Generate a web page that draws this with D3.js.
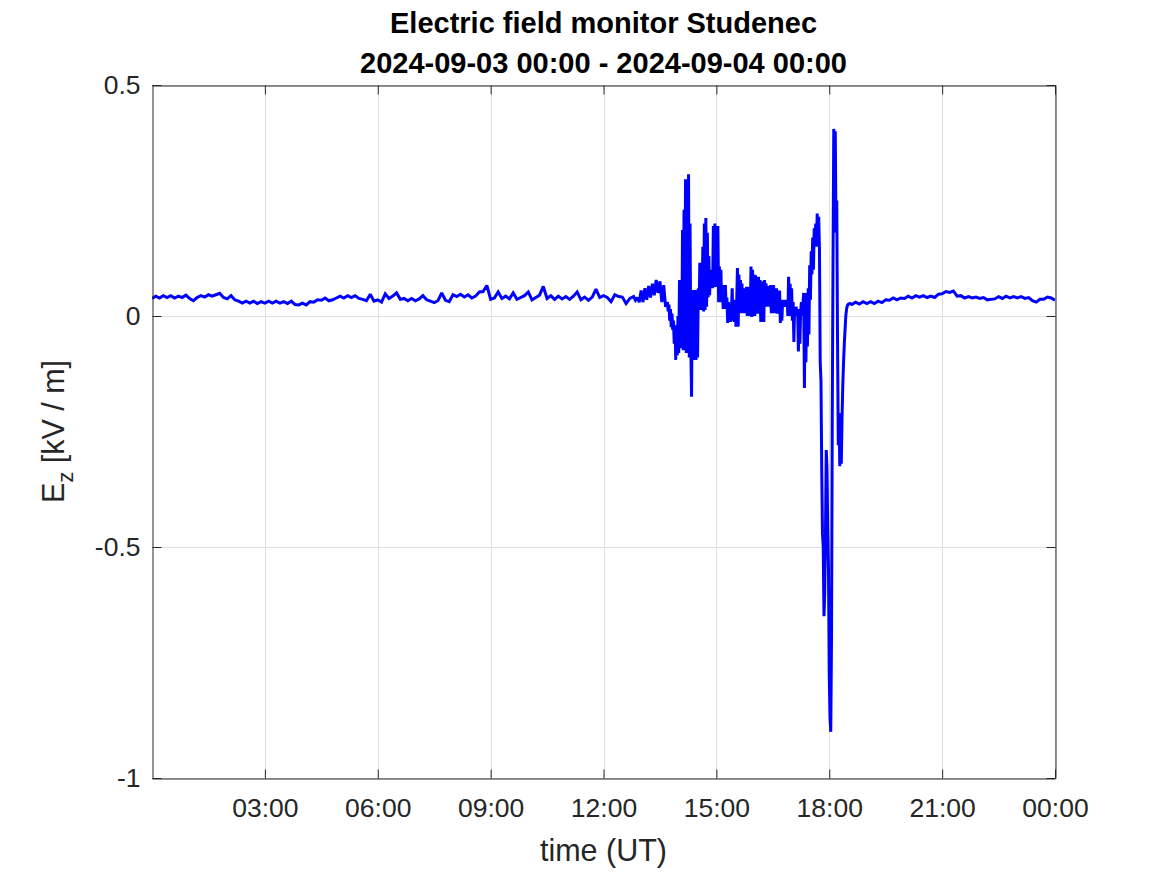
<!DOCTYPE html>
<html>
<head>
<meta charset="utf-8">
<script src="https://cdn.jsdelivr.net/npm/d3@7"></script>
<style>
  html, body { margin: 0; padding: 0; background: #ffffff; }
  svg { display: block; font-family: "Liberation Sans", Arial, Helvetica, sans-serif; }
</style>
</head>
<body>
<svg id="chart" width="1167" height="875"></svg>
<script>
// ---------- DATA (hours since 2024-09-03 00:00 UT, Ez in kV/m) ----------
const titleLines = ["Electric field monitor Studenec", "2024-09-03 00:00 - 2024-09-04 00:00"];
const yTicks = [-1, -0.5, 0, 0.5];
const yTickLabels = ["-1", "-0.5", "0", "0.5"];
const xTickHours = [3, 6, 9, 12, 15, 18, 21, 24];

const morningT = [0.0,0.1,0.2,0.3,0.4,0.5,0.6,0.7,0.8,0.9,1.0,1.1,1.2,1.3,1.4,1.5,1.6,1.7,1.8,1.9,
  2.0,2.1,2.2,2.3,2.4,2.5,2.6,2.7,2.8,2.9,3.0,3.1,3.2,3.3,3.4,3.5,3.6,3.7,3.8,3.9,
  4.0,4.1,4.2,4.3,4.4,4.5,4.6,4.7,4.8,4.9,5.0,5.1,5.2,5.3,5.4,5.5,5.6,5.7,5.8,5.9,
  6.0,6.1,6.2,6.3,6.4,6.5,6.6,6.7,6.8,6.9,7.0,7.1,7.2,7.3,7.4,7.5,7.6,7.7,7.8,7.9,
  8.0,8.1,8.2,8.3,8.4,8.5,8.6,8.7,8.8,8.9,9.0,9.1,9.2,9.3,9.4,9.5,9.6,9.7,9.8,9.9,
  10.0,10.1,10.2,10.3,10.4,10.5,10.6,10.7,10.8,10.9,11.0,11.1,11.2,11.3,11.4,11.5,11.6,11.7,11.8,11.9,
  12.0,12.1,12.2,12.3,12.4,12.5,12.6,12.7,12.8,12.85,12.9,12.95,13.0,13.05,13.1,13.15,13.2,13.25,13.3,13.35,
  13.4,13.45,13.5,13.55,13.6,13.65];
const morningEz = [0.038,0.043,0.039,0.044,0.040,0.044,0.039,0.043,0.040,0.045,
  0.038,0.033,0.040,0.044,0.041,0.046,0.043,0.046,0.049,0.040,
  0.037,0.044,0.035,0.032,0.028,0.032,0.028,0.032,0.027,0.031,
  0.028,0.032,0.028,0.032,0.028,0.031,0.027,0.032,0.025,0.024,
  0.028,0.024,0.031,0.030,0.035,0.034,0.039,0.033,0.035,0.039,
  0.043,0.039,0.044,0.040,0.044,0.038,0.036,0.033,0.047,0.032,
  0.035,0.030,0.048,0.038,0.043,0.050,0.036,0.038,0.033,0.038,
  0.033,0.037,0.044,0.035,0.032,0.029,0.033,0.050,0.034,0.031,
  0.046,0.042,0.047,0.041,0.046,0.039,0.043,0.052,0.053,0.066,
  0.036,0.039,0.052,0.038,0.043,0.037,0.050,0.036,0.040,0.044,
  0.052,0.035,0.040,0.045,0.064,0.038,0.044,0.036,0.043,0.037,
  0.042,0.036,0.043,0.052,0.035,0.041,0.034,0.041,0.058,0.040,
  0.044,0.040,0.031,0.046,0.042,0.041,0.027,0.038,0.042,0.034,0.040,0.030,0.055,0.030,0.060,0.035,0.065,0.040,0.070,0.045,
  0.078,0.050,0.075,0.030,0.067,0.020];

const stormT = [13.70,13.72,13.74,13.76,13.78,13.80,13.82,13.84,13.86,13.88,13.90,13.92,13.94,13.96,13.98,
  14.00,14.02,14.04,14.06,14.08,14.10,14.12,14.14,14.16,14.18,14.20,14.22,14.24,14.26,14.28,14.30,14.32,14.34,14.36,14.38,
  14.40,14.42,14.44,14.46,14.48,14.50,14.52,14.54,14.56,14.58,14.60,14.62,14.64,14.66,14.68,14.70,14.72,14.74,14.76,14.78,
  14.80,14.82,14.84,14.86,14.88,14.90,14.92,14.94,14.96,14.98,15.00,15.02,15.04,15.06,15.08,15.10,15.12,15.14,15.16,15.18,
  15.20,15.22,15.24,15.26,15.28,15.30,15.32,15.34,15.36,15.38,15.40,15.42,15.44,15.46,15.48,15.50,15.52,15.54,15.56,15.58,
  15.60,15.62,15.64,15.66,15.68,15.70,15.72,15.74,15.76,15.78,15.80,15.82,15.84,15.86,15.88,15.90,15.92,15.94,15.96,15.98,
  16.00,16.02,16.04,16.06,16.08,16.10,16.12,16.14,16.16,16.18,16.20,16.22,16.24,16.26,16.28,16.30,16.32,16.34,16.36,16.38,
  16.40,16.42,16.44,16.46,16.48,16.50,16.52,16.54,16.56,16.58,16.60,16.62,16.64,16.66,16.68,16.70,16.72,16.74,16.76,16.78,
  16.80,16.82,16.84,16.86,16.88,16.90,16.92,16.94,16.96,16.98,17.00,17.02,17.04,17.06,17.08,17.10,17.12,17.14,17.16,17.18,
  17.20,17.22,17.24,17.26,17.28,17.30,17.32,17.34,17.36,17.38,17.40,17.42,17.44,17.46,17.48,17.50,17.52,17.54,17.56,17.58,
  17.60,17.62,17.64,17.66,17.68,17.70,17.72,17.74,17.76,17.78,17.80,17.82,17.84,17.86,17.88,17.90,17.92,17.94,17.96,17.98,
  18.00,18.02,18.04,18.06,18.08,18.10,18.12,18.14,18.16,18.18,18.20,18.22,18.24,18.26,18.28,18.30,18.32,18.34,18.36,18.38,
  18.40,18.42,18.44,18.46,18.48,18.50,18.55];
const stormEz = [0.030,0.010,0.025,-0.010,0.015,-0.024,0.005,-0.030,-0.010,-0.060,-0.020,-0.095,-0.030,-0.085,0.000,
  -0.080,0.078,-0.060,0.050,-0.070,0.186,-0.074,0.230,-0.050,0.296,-0.080,0.250,-0.060,0.307,-0.090,0.200,-0.060,-0.175,0.056,-0.095,
  0.040,-0.060,0.056,-0.095,0.013,-0.090,0.060,0.013,0.115,0.013,0.110,0.020,0.150,0.010,0.200,0.013,0.212,0.020,0.180,0.040,
  0.130,0.045,0.100,0.060,0.100,0.060,0.195,0.065,0.200,0.063,0.190,0.070,0.195,0.030,0.107,0.040,0.100,0.030,0.067,0.015,
  0.060,0.020,0.067,0.015,0.040,-0.015,0.030,-0.010,0.020,-0.013,0.015,0.060,-0.010,0.020,-0.013,0.035,-0.023,0.030,0.104,-0.023,
  0.090,0.006,0.078,0.010,0.070,0.006,0.060,0.010,0.050,0.006,0.063,0.000,0.055,0.005,0.063,0.000,0.107,-0.002,0.100,0.010,
  0.090,0.000,0.088,0.005,0.080,0.010,0.085,0.005,0.078,-0.013,0.075,-0.010,0.070,-0.013,0.078,0.020,0.071,0.020,0.060,0.025,
  0.065,0.020,0.067,0.006,0.060,0.010,0.067,0.006,0.055,0.010,0.060,0.005,0.050,0.010,0.055,-0.015,0.035,-0.010,0.030,0.020,
  0.035,0.020,0.030,0.022,0.035,0.000,0.085,0.005,0.070,0.000,0.060,-0.010,0.030,-0.056,0.020,0.000,0.020,0.002,0.015,-0.077,
  0.015,-0.060,0.010,0.030,0.000,0.025,0.050,-0.156,0.040,-0.100,0.050,-0.066,0.060,-0.040,0.110,0.035,0.140,0.090,0.170,0.100,
  0.190,0.150,0.200,0.150,0.222,0.160,0.215,0.143,-0.100,-0.140,-0.330,-0.470,-0.500,-0.650,-0.600,-0.470,-0.290,-0.330,-0.460,-0.550,
  -0.780,-0.870,-0.900,-0.700,-0.220,0.115,0.405,0.300,0.400,0.180,0.250,-0.050,-0.280,-0.210,-0.325,-0.250,-0.320,-0.220,-0.150,-0.100,
  -0.060,-0.030,0.000,0.015,0.022,0.025,0.027];

const eveningT = [18.6,18.7,18.8,18.9,19.0,19.1,19.2,19.3,19.4,19.5,19.6,19.7,19.8,19.9,
  20.0,20.1,20.2,20.3,20.4,20.5,20.6,20.7,20.8,20.9,21.0,21.1,21.2,21.3,21.4,21.5,21.6,21.7,21.8,21.9,
  22.0,22.1,22.2,22.3,22.4,22.5,22.6,22.7,22.8,22.9,23.0,23.1,23.2,23.3,23.4,23.5,23.6,23.7,23.8,23.9,24.0];
const eveningEz = [0.025,0.030,0.026,0.031,0.027,0.031,0.027,0.032,0.029,0.035,0.034,0.039,0.035,0.039,
  0.038,0.043,0.039,0.044,0.041,0.044,0.040,0.043,0.040,0.047,
  0.048,0.053,0.051,0.054,0.043,0.044,0.039,0.042,0.039,0.041,
  0.038,0.040,0.035,0.036,0.037,0.042,0.038,0.043,0.039,0.042,
  0.039,0.042,0.038,0.040,0.033,0.030,0.036,0.036,0.041,0.039,0.034];

// ---------- LAYOUT ----------
const W = 1167, H = 875;
const plot = { left: 152, top: 85, right: 1055, bottom: 778 };
const ink = "#262626";
const start = Date.UTC(2024, 8, 3, 0, 0);
const toDate = h => new Date(start + h * 3600e3);

const svg = d3.select("#chart");
svg.append("rect").attr("width", W).attr("height", H).attr("fill", "#ffffff");

const x = d3.scaleUtc().domain([toDate(0), toDate(24)]).range([plot.left, plot.right]);
const y = d3.scaleLinear().domain([-1, 0.5]).range([plot.bottom, plot.top]);

const xTicks = xTickHours.map(toDate);
const fmt = d3.utcFormat("%H:%M");

// grid
const grid = svg.append("g").attr("stroke", "#dfdfdf").attr("stroke-width", 1);
xTicks.forEach(t => {
  const px = Math.round(x(t)) + 0.5;
  grid.append("line").attr("x1", px).attr("x2", px).attr("y1", plot.top).attr("y2", plot.bottom);
});
yTicks.forEach(v => {
  const py = Math.round(y(v)) + 0.5;
  grid.append("line").attr("x1", plot.left).attr("x2", plot.right).attr("y1", py).attr("y2", py);
});

// data
const series = [];
[[morningT, morningEz], [stormT, stormEz], [eveningT, eveningEz]].forEach(([t, v]) => {
  t.forEach((h, i) => series.push({ t: toDate(h), v: v[i] }));
});
const clipId = "plotclip";
svg.append("clipPath").attr("id", clipId).append("rect")
  .attr("x", plot.left).attr("y", plot.top)
  .attr("width", plot.right - plot.left).attr("height", plot.bottom - plot.top);
svg.append("path")
  .datum(series)
  .attr("clip-path", `url(#${clipId})`)
  .attr("fill", "none")
  .attr("stroke", "#0000ff")
  .attr("stroke-width", 3)
  .attr("stroke-linejoin", "miter")
  .attr("stroke-miterlimit", 2)
  .attr("d", d3.line().x(d => x(d.t)).y(d => y(d.v)));

// axes (inside ticks, box)
const tickLen = 9;
const tickFont = "26.5px";
const xAxisB = d3.axisBottom(x).tickValues(xTicks).tickFormat(fmt).tickSizeInner(-tickLen).tickSizeOuter(0).tickPadding(20);
const xAxisT = d3.axisTop(x).tickValues(xTicks).tickFormat("").tickSizeInner(-tickLen).tickSizeOuter(0);
const yAxisL = d3.axisLeft(y).tickValues(yTicks).tickFormat(d => yTickLabels[yTicks.indexOf(d)]).tickSizeInner(-tickLen).tickSizeOuter(0).tickPadding(12);
const yAxisR = d3.axisRight(y).tickValues(yTicks).tickFormat("").tickSizeInner(-tickLen).tickSizeOuter(0);

function style(g) {
  g.select(".domain").attr("stroke", ink).attr("stroke-width", 1);
  g.selectAll(".tick line").attr("stroke", ink).attr("stroke-width", 1);
  g.selectAll(".tick text").attr("fill", ink).style("font-size", tickFont)
    .style("font-family", '"Liberation Sans", Arial, Helvetica, sans-serif');
}
svg.append("g").attr("transform", `translate(0,${plot.bottom + 0.5})`).call(xAxisB).call(style);
svg.append("g").attr("transform", `translate(0,${plot.top + 0.5})`).call(xAxisT).call(style);
svg.append("g").attr("transform", `translate(${plot.left + 0.5},0)`).call(yAxisL).call(style);
svg.append("g").attr("transform", `translate(${plot.right + 0.5},0)`).call(yAxisR).call(style);

// title
const title = svg.append("text").attr("text-anchor", "middle").attr("fill", "#000000")
  .style("font-size", "29px").style("font-weight", "bold");
title.append("tspan").attr("x", (plot.left + plot.right) / 2).attr("y", 32.5).text(titleLines[0]);
title.append("tspan").attr("x", (plot.left + plot.right) / 2).attr("y", 72.5).text(titleLines[1]);

// x label
svg.append("text").attr("x", (plot.left + plot.right) / 2).attr("y", 861)
  .attr("text-anchor", "middle").attr("fill", ink).style("font-size", "30.5px").text("time (UT)");

// y label
const yl = svg.append("text")
  .attr("transform", `translate(64,${(plot.top + plot.bottom) / 2}) rotate(-90)`)
  .attr("text-anchor", "middle").attr("fill", ink).style("font-size", "30.5px");
yl.append("tspan").text("E");
yl.append("tspan").attr("dy", 9).style("font-size", "22px").text("z");
yl.append("tspan").attr("dy", -9).text(" [kV / m]");
</script>
</body>
</html>
